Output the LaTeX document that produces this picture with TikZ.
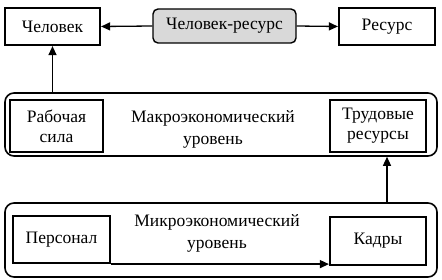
\documentclass[tikz,border=0pt]{standalone}
\usepackage{fontspec}
\setmainfont{Liberation Serif}
\usetikzlibrary{arrows.meta,positioning}
\tikzset{
  lvlbox/.style={draw, line width=2.2pt, align=center, inner sep=1pt, font=\fontsize{17.5}{20}\selectfont},
  midbox/.style={draw, line width=1.4pt, rounded corners=5pt, fill=gray!30, align=center, font=\fontsize{17.5}{20}\selectfont},
  lvlframe/.style={draw, line width=1.6pt, rounded corners=9pt},
  lvltext/.style={align=center, font=\fontsize{17.5}{22}\selectfont},
  arr/.style={-{Triangle[length=9pt,width=8pt]}, line width=1.3pt},
}
\begin{document}
\begin{tikzpicture}[x=1pt, y=-1pt]
  \useasboundingbox (0,0) rectangle (442,280);

  % top row
  \node[lvlbox, minimum width=95pt, minimum height=37pt] (chel) at (52.5,26.5) {Человек};
  \node[midbox, minimum width=143pt, minimum height=34pt] (chres) at (224.5,26) {Человек-ресурс};
  \node[lvlbox, minimum width=96pt, minimum height=37pt] (res) at (387,26.5) {Ресурс};

  % macro level
  \node[lvlframe, minimum width=432pt, minimum height=63pt] (macro) at (221,124.5) {};
  \node[lvlbox, minimum width=93pt, minimum height=52pt] (rab) at (56.5,126) {Рабочая\\сила};
  \node[lvlbox, minimum width=96pt, minimum height=52pt] (trud) at (378,126) {Трудовые\\ресурсы};
  \node[lvltext] (macrotxt) at (213,129) {Макроэкономический\\уровень};

  % micro level
  \node[lvlframe, minimum width=432pt, minimum height=74pt] (micro) at (221,240) {};
  \node[lvlbox, minimum width=97pt, minimum height=47pt] (pers) at (61.5,239.5) {Персонал};
  \node[lvlbox, minimum width=96pt, minimum height=48pt] (kadry) at (378,241) {Кадры};
  \node[lvltext] (microtxt) at (217,233) {Микроэкономический\\уровень};

  % connectors
  \draw[arr] (chres.west) -- (chel.east);
  \draw[arr] (chres.east) -- (res.west);
  \draw[arr] (macro.north -| chel.south) -- (chel.south);
  \draw[arr] (micro.north -| res.south) -- (macro.south -| res.south);
  \draw[arr] (pers.south east) -- (pers.south east -| kadry.west);
\end{tikzpicture}
\end{document}
